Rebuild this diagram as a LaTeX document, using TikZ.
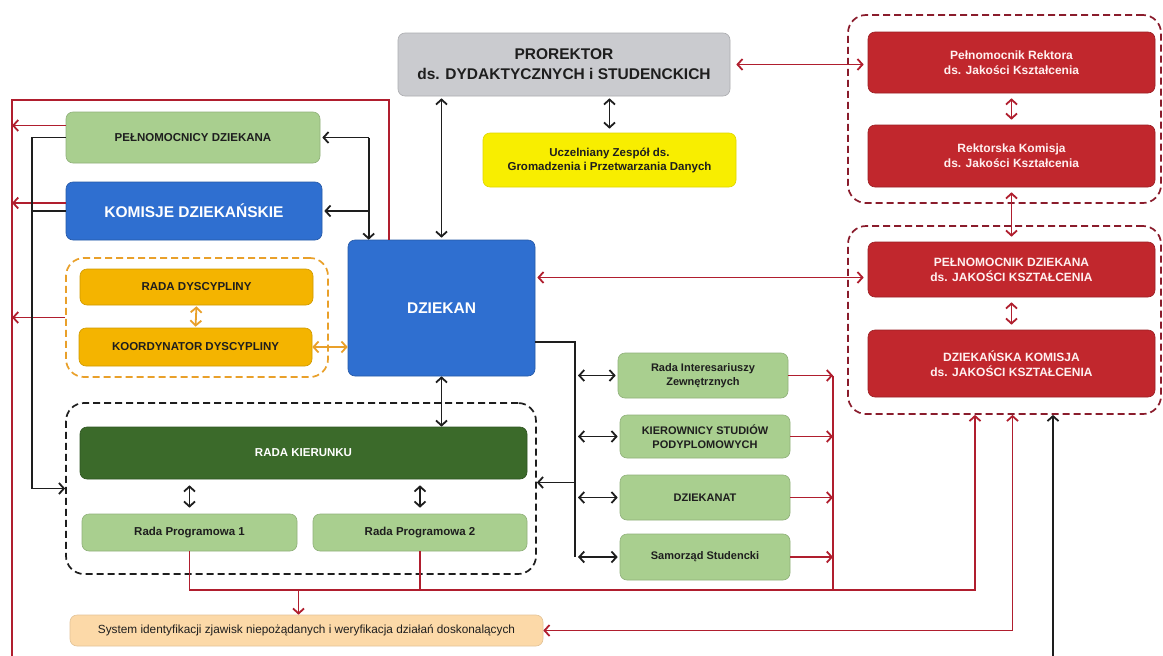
\documentclass[tikz,border=0pt]{standalone}
\usepackage{fontspec}
\setmainfont{Liberation Sans}
\usetikzlibrary{arrows.meta}
\definecolor{grayb}{HTML}{CACBCF}
\definecolor{yelb}{HTML}{F8EE00}
\definecolor{redb}{HTML}{C1272D}
\definecolor{redd}{HTML}{8A1C2C}
\definecolor{lgreen}{HTML}{A9CF8F}
\definecolor{blueb}{HTML}{2F6FD0}
\definecolor{amber}{HTML}{F4B400}
\definecolor{dgreen}{HTML}{3B6A2A}
\definecolor{peach}{HTML}{FCD9A8}
\definecolor{lred}{HTML}{B01E2E}
\definecolor{orad}{HTML}{E9A02A}
\definecolor{lblack}{HTML}{1E1E1E}
\begin{document}
\begin{tikzpicture}[x=1pt,y=-1pt,line width=1.8pt,>={Straight Barb[length=5pt,width=11pt]}]
    \tikzstyle{box}=[rounded corners=7pt, inner sep=2pt, align=center, line width=0.6pt]
    \tikzstyle{bfont}=[font=\bfseries\fontsize{11.5}{14}\selectfont]
    \tikzstyle{lgbox}=[box, bfont, fill=lgreen, draw=lgreen!85!black, text=lblack]
    \tikzstyle{bbox}=[box, fill=blueb, draw=blueb!80!black, text=white, font=\bfseries\fontsize{15.5}{18}\selectfont]
    \tikzstyle{abox}=[box, bfont, fill=amber, draw=amber!85!black, text=lblack]
    \tikzstyle{redbox}=[box, fill=redb, draw=redb!80!black, text=red!6, font=\bfseries\fontsize{12}{15}\selectfont]
    \tikzstyle{sgbox}=[lgbox, font=\bfseries\fontsize{11}{14}\selectfont]
    \tikzstyle{grp}=[rounded corners=18pt, line width=1.7pt, dash pattern=on 7pt off 4pt]
    \tikzstyle{kgroup}=[grp, draw=lblack]
    \tikzstyle{rgroup}=[grp, draw=redd]
    \tikzstyle{ogroup}=[grp, draw=orad]
    \tikzstyle{bline}=[draw=lblack]
    \tikzstyle{marrs}=[bline, ->]
    \tikzstyle{bdarr}=[bline, <->]
    \tikzstyle{rline}=[draw=lred]
    \tikzstyle{rarr}=[rline, ->]
    \tikzstyle{rdarr}=[rline, <->]
    \tikzstyle{oarr}=[draw=orad, <->]
    \def\rw{287pt}

    \useasboundingbox (0,0) rectangle (1163,656);
    \fill[white] (0,0) rectangle (1163,656);

    \node[box, fill=grayb, draw=grayb!85!black, text=lblack, minimum width=332pt, minimum height=63pt,
        font=\bfseries\fontsize{15.5}{20}\selectfont] (prorektor) at (564,64.5)
        {PROREKTOR\\ds. DYDAKTYCZNYCH i STUDENCKICH};
    \node[box, fill=yelb, draw=yelb!90!black, text=lblack, minimum width=253pt, minimum height=54pt,
        font=\bfseries\fontsize{11.5}{14}\selectfont] (zespol) at (609.5,160)
        {Uczelniany Zespół ds.\\Gromadzenia i Przetwarzania Danych};

    \node[rgroup, minimum width=313pt, minimum height=188pt] (rekgrp) at (1004.5,109) {};
    \node[rgroup, minimum width=313pt, minimum height=188pt] (dziekgrp) at (1004.5,320) {};
    \node[redbox, minimum width=\rw, minimum height=61pt] (pelrekt) at (1011.5,62.5) {Pełnomocnik Rektora\\ds. Jakości Kształcenia};
    \node[redbox, minimum width=\rw, minimum height=62pt] (rekkom) at (1011.5,156) {Rektorska Komisja\\ds. Jakości Kształcenia};
    \node[redbox, minimum width=\rw, minimum height=55pt] (peldziek) at (1011.5,269.5) {PEŁNOMOCNIK DZIEKANA\\ds. JAKOŚCI KSZTAŁCENIA};
    \node[redbox, minimum width=\rw, minimum height=67pt] (dziekkom) at (1011.5,363.5) {DZIEKAŃSKA KOMISJA\\ds. JAKOŚCI KSZTAŁCENIA};

    \node[lgbox, minimum width=254pt, minimum height=51pt] (pelnom) at (193,137.5) {PEŁNOMOCNICY DZIEKANA};
    \node[bbox, minimum width=256pt, minimum height=58pt] (komisje) at (194,211) {KOMISJE DZIEKAŃSKIE};
    \node[ogroup, minimum width=262pt, minimum height=119pt] (dyscgrp) at (197,317.5) {};
    \node[abox, minimum width=233pt, minimum height=36pt] (radadysc) at (196.5,287) {RADA DYSCYPLINY};
    \node[abox, minimum width=233pt, minimum height=38pt] (koord) at (195.5,347) {KOORDYNATOR DYSCYPLINY};
    \node[bbox, minimum width=187pt, minimum height=136pt] (dziekan) at (441.5,308) {DZIEKAN};

    \node[kgroup, minimum width=470pt, minimum height=171pt] (kiergrp) at (301,488.5) {};
    \node[box, bfont, fill=dgreen, draw=dgreen!80!black, text=white, minimum width=447pt, minimum height=52pt] (radakier) at (303.5,453) {RADA KIERUNKU};
    \node[lgbox, minimum width=215pt, minimum height=37pt] (rp1) at (189.5,532.5) {Rada Programowa 1};
    \node[lgbox, minimum width=214pt, minimum height=37pt] (rp2) at (420,532.5) {Rada Programowa 2};
    \node[box, fill=peach, draw=peach!90!black, text=lblack, minimum width=473pt, minimum height=31pt,
        font=\fontsize{11.8}{14}\selectfont] (system) at (306.5,630.5)
        {System identyfikacji zjawisk niepożądanych i weryfikacja działań doskonalących};

    \node[sgbox, minimum width=170pt, minimum height=45pt] (rint) at (703,375.5) {Rada Interesariuszy\\Zewnętrznych};
    \node[sgbox, minimum width=170pt, minimum height=43pt] (kierst) at (705,436.5) {KIEROWNICY STUDIÓW\\PODYPLOMOWYCH};
    \node[sgbox, minimum width=170pt, minimum height=45pt] (dziekanat) at (705,497.5) {DZIEKANAT};
    \node[sgbox, minimum width=170pt, minimum height=46pt] (samorzad) at (705,557) {Samorząd Studencki};

    \coordinate (lbtop) at (12,100);
    \coordinate (lbbot) at (12,662);
    \coordinate (lb2) at (33,300);
    \coordinate (tb) at ([xshift=21pt]dziekan.north west);
    \coordinate (mb) at (575,400);
    \coordinate (rb2) at (833,400);
    \coordinate (hb) at (975,590);
    \coordinate (cbot) at (1053,662);
    \coordinate (sa) at ([xshift=-8pt]system.north);

    \draw[rline] ([xshift=41pt]dziekan.north west) |- (lbtop) -- (lbbot);
    \draw[rarr] ([yshift=12pt]pelnom.west) coordinate (p1) -- (p1 -| lbtop);
    \draw[rarr] ([yshift=8pt]komisje.west) coordinate (k1) -- (k1 -| lbtop);
    \draw[rarr] (dyscgrp.west) -- (dyscgrp.west -| lbtop);

    \draw[marrs] (pelnom.west) -| ([xshift=-33pt]kiergrp.west) -- (kiergrp.west);
    \draw[bline] (komisje.west) -- (komisje.west -| lb2);
    \draw[marrs] (tb |- pelnom.east) -- (tb);
    \draw[marrs, shorten >=2pt] (tb |- pelnom.east) -- (pelnom.east);
    \draw[marrs, shorten >=2pt] (tb |- komisje.east) -- (komisje.east);

    \draw[oarr, shorten <=1pt, shorten >=1pt] (radadysc.south) -- (koord.north);
    \draw[oarr] (koord.east) -- (koord.east -| dziekan.west);

    \draw[bdarr, shorten <=2pt, shorten >=2pt] (prorektor.south -| dziekan.north) -- (dziekan.north);
    \draw[bdarr, shorten <=2pt, shorten >=4pt] (prorektor.south -| zespol.north) -- (zespol.north);
    \draw[bdarr] (dziekan.south) -- (dziekan.south |- radakier.north);
    \draw[bdarr, shorten <=6pt, shorten >=6pt] (radakier.south -| rp1.north) -- (rp1.north);
    \draw[bdarr, shorten <=6pt, shorten >=6pt] (radakier.south -| rp2.north) -- (rp2.north);

    \draw[rdarr, shorten <=6pt, shorten >=4pt] (prorektor.east) -- (prorektor.east -| pelrekt.west);
    \draw[rdarr, shorten <=5pt, shorten >=5pt] (pelrekt.south) -- (rekkom.north);
    \draw[rdarr, shorten <=5pt, shorten >=5pt] (rekkom.south) -- (peldziek.north);
    \draw[rdarr, shorten <=5pt, shorten >=5pt] (peldziek.south) -- (dziekkom.north);
    \draw[rdarr, shorten <=4pt, shorten >=2pt] ([yshift=-8pt]peldziek.west) coordinate (p2) -- (p2 -| dziekan.east);

    \draw[bline] ([yshift=-34pt]dziekan.east) -| (mb |- samorzad.west);
    \draw[marrs] ([yshift=6pt]kiergrp.east) coordinate (k2) (k2 -| mb) -- (k2);
    \foreach \nm in {rint,kierst,dziekanat,samorzad}{
        \draw[bdarr, shorten <=3pt, shorten >=2pt] (mb |- \nm.west) -- (\nm.west);
        \draw[rarr] (\nm.east) -- (\nm.east -| rb2);
    }
    \draw[rline] (rint.east -| rb2) -- (rb2 |- hb);
    \draw[rarr] (rp1.south) |- (hb) -- (hb |- dziekgrp.south);
    \draw[rline] (rp2.south) -- (rp2.south |- hb);
    \draw[rarr] (sa |- hb) -- (sa);
    \draw[rdarr] (system.east) -| ([xshift=8pt]dziekgrp.south);
    \draw[marrs] (cbot) -- (cbot |- dziekgrp.south);
\end{tikzpicture}
\end{document}
